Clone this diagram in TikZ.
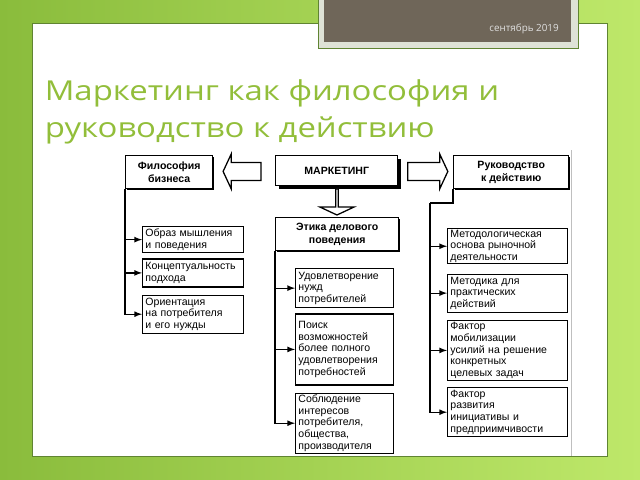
\documentclass[tikz,border=0pt]{standalone}
\usepackage{fontspec}
\setmainfont{Liberation Sans}
\newfontfamily\titlefont{Open Sans}
\usetikzlibrary{calc}
\usetikzlibrary{arrows}
\usetikzlibrary{positioning}
\usetikzlibrary{shapes}
\usetikzlibrary{shadows}

\definecolor{bgdark}{RGB}{138,188,60}
\definecolor{bglight}{RGB}{190,232,106}
\definecolor{titlegreen}{RGB}{146,190,58}
\definecolor{panelline}{RGB}{96,132,50}
\definecolor{datebrown}{RGB}{111,102,89}
\definecolor{dateframe}{RGB}{222,226,214}

\begin{document}
\begin{tikzpicture}[x=0.025cm, y=-0.025cm,
  headbox/.style={
    % The shape:
    rectangle,
    minimum height=0.825cm,
    % The border:
    draw=black, line width=1pt,
    fill=white,
    drop shadow={shadow xshift=#1, shadow yshift=-#1, fill=black, opacity=1},
    % Font
    font=\fontsize{7.5}{9}\selectfont\bfseries,
    align=center},
  headbox/.default=0.7pt,
  itembox/.style={
    % The shape:
    rectangle,
    text width=#1,
    inner xsep=2pt, inner ysep=1pt,
    % The border:
    draw=black, line width=0.9pt,
    % Font
    font=\fontsize{7.5}{8.2}\selectfont,
    align=left},
  fatarrow/.style={
    single arrow,
    draw=black, line width=0.9pt, fill=white,
    minimum width=0.85cm,
    text height=0pt, text depth=0pt,
    inner xsep=0pt, inner ysep=0.21cm,
    single arrow head extend=0.21cm,
    single arrow tip angle=130},
  title/.style={anchor=base west, inner sep=0pt, text=titlegreen,
    font=\titlefont\fontsize{19.5}{24}\selectfont, xscale=1.2, transform shape},
  >=latex, line width=0.9pt]

  % slide background
  \useasboundingbox (0,0) rectangle (640,480);
  \shade[left color=bgdark, right color=bglight] (0,0) rectangle (640,480);
  \draw[panelline, fill=white, line width=0.7pt] (32,23) rectangle (607,456);
  \draw[panelline, fill=dateframe, line width=0.5pt] (318,-5) rectangle (578,48);
  \fill[datebrown] (324,-5) rectangle (571,42);
  \node (date) [anchor=east, text=white!88!black, font=\titlefont\fontsize{7}{8}\selectfont] at (564,29) {сентябрь 2019};

  \node (title1) [title] at (44,100) {Маркетинг как философия и};
  \node (title2) [title] at (44,137) {руководство к действию};

  % edge of the scanned scheme
  \draw[black!25, line width=0.6pt] (571,150) -- (571,456);

  \node (phil) [headbox, minimum width=2.175cm, anchor=north west] at (125,155) {Философия\\ бизнеса};
  \node (mkt) [headbox=2.2pt, minimum width=3.05cm, minimum height=0.75cm, anchor=north west] at (275,155) {МАРКЕТИНГ};
  \node (ruk) [headbox, minimum width=2.875cm, anchor=north west] at (453,155) {Руководство\\ к действию};
  \node (eth) [headbox, minimum width=3.075cm, anchor=north west] at (275,217) {Этика делового\\ поведения};

  \node (toPhil) [fatarrow, minimum height=0.95cm, shape border rotate=180] at ($(phil.east)!0.5!(mkt.west)$) {};
  \node (toRuk) [fatarrow, minimum height=1.0cm] at ($(mkt.east)!0.5!(ruk.west)$) {};
  \node (toEth) [fatarrow, minimum height=0.65cm, shape border rotate=270] at ($(mkt.south)!0.5!(eth.north)$) {};

  \node (l1) [itembox=2.38cm, minimum height=0.65cm, anchor=north west] at (142,226) {Образ мышления\\ и поведения};
  \node (l2) [itembox=2.38cm, minimum height=0.7cm, below=0.125cm of l1] {Концептуальность\\ подхода};
  \node (l3) [itembox=2.38cm, minimum height=0.95cm, below=0.175cm of l2] {Ориентация\\ на потребителя\\ и его нужды};

  \node (c1) [itembox=2.31cm, minimum height=0.975cm, anchor=north west] at (295,268) {Удовлетворение\\ нужд\\ потребителей};
  \node (c2) [itembox=2.31cm, minimum height=1.775cm, below=0.125cm of c1] {Поиск\\ возможностей\\ более полного\\ удовлетворения\\ потребностей};
  \node (c3) [itembox=2.31cm, minimum height=1.5cm, below=0.175cm of c2] {Соблюдение\\ интересов\\ потребителя,\\ общества,\\ производителя};

  \node (r1) [itembox=2.86cm, minimum height=0.875cm, anchor=north west] at (447,228) {Методологическая\\ основа рыночной\\ деятельности};
  \node (r2) [itembox=2.86cm, minimum height=0.95cm, below=0.225cm of r1] {Методика для\\ практических\\ действий};
  \node (r3) [itembox=2.86cm, minimum height=1.5cm, below=0.175cm of r2] {Фактор\\ мобилизации\\ усилий на решение\\ конкретных\\ целевых задач};
  \node (r4) [itembox=2.86cm, minimum height=1.225cm, below=0.15cm of r3] {Фактор\\ развития\\ инициативы и\\ предприимчивости};

  \coordinate (rbend) at (430,203);
  \foreach \n in {l1,l2,l3} \draw[->] (phil.south west) |- (\n.west);
  \foreach \n in {c1,c2,c3} \draw[->] (eth.south west) |- (\n.west);
  \draw (ruk.south west) |- (rbend);
  \foreach \n in {r1,r2,r3,r4} \draw[->] (rbend) |- (\n.west);
\end{tikzpicture}
\end{document}
